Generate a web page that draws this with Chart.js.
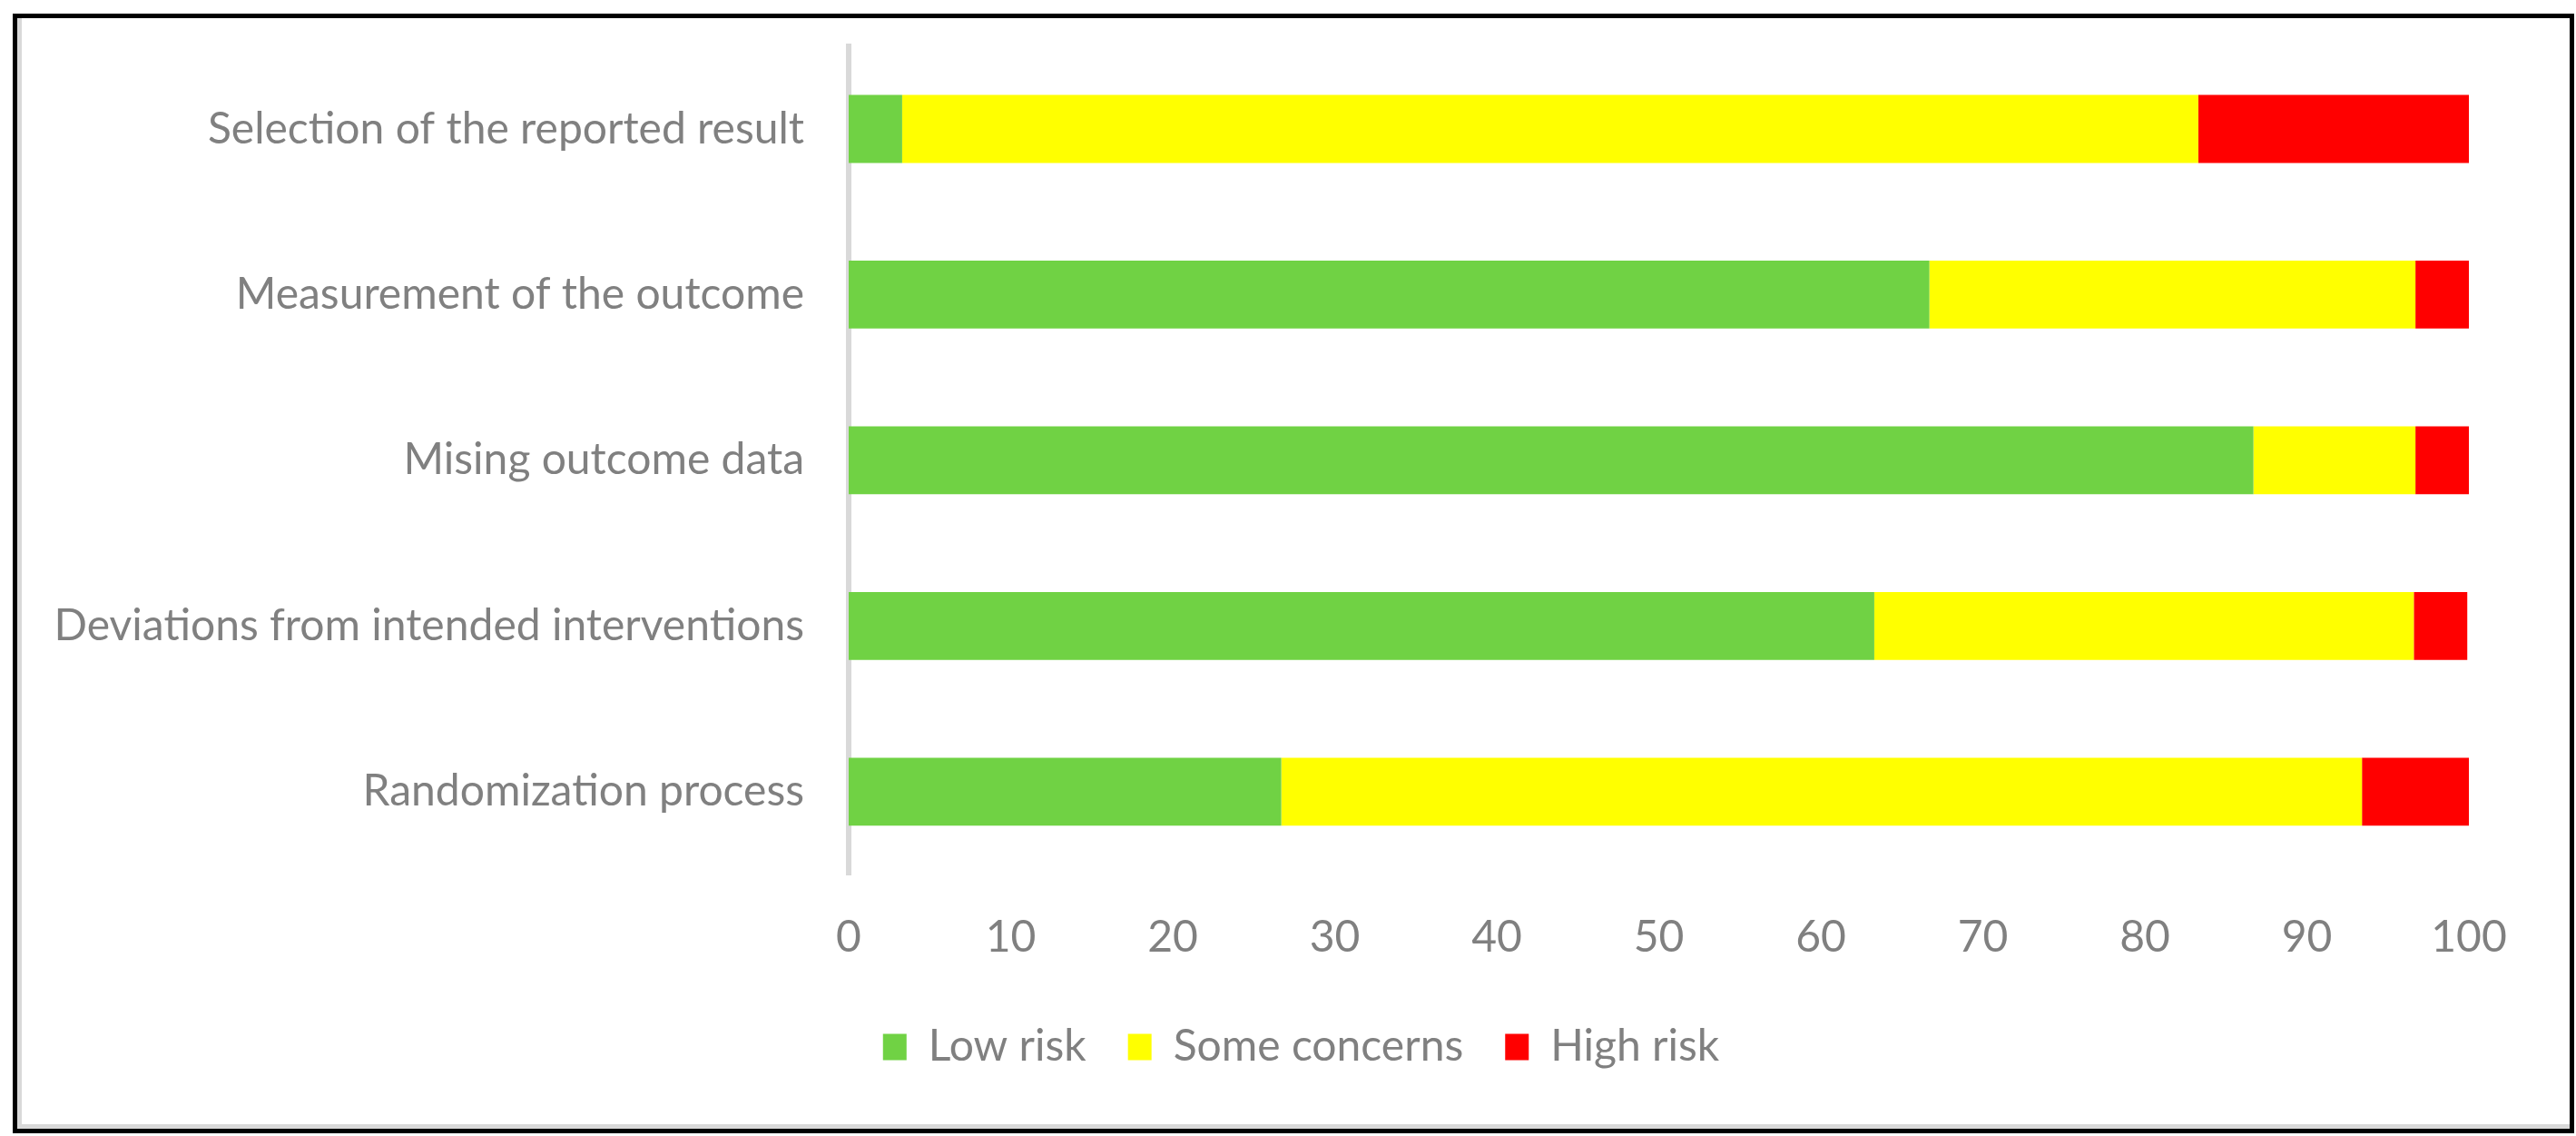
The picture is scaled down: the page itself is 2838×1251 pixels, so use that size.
<!DOCTYPE html>
<html>
<head>
<meta charset="utf-8">
<script src="https://cdn.jsdelivr.net/npm/chart.js@4"></script>
<style>
  html, body { margin: 0; padding: 0; background: #fff; }
  #frame {
    position: absolute;
    left: 14px; top: 15px;
    width: 2822px; height: 1233px;
    box-sizing: border-box;
    border: 5px solid #000;
    box-shadow: inset 5px -5px 0 #d9d9d9;
  }
  #riskChart { position: absolute; left: 2px; top: 2px; }
</style>
</head>
<body>
<div id="frame">
  <canvas id="riskChart" width="2810" height="1221"></canvas>
</div>
<script>
const domains = [
  "Selection of the reported result",
  "Measurement of the outcome",
  "Mising outcome data",
  "Deviations from intended interventions",
  "Randomization process"
];
const lowRisk = [3.3, 66.7, 86.7, 63.3, 26.7];
const someConcerns = [80, 30, 10, 33.3, 66.7];
const highRisk = [16.7, 3.3, 3.3, 3.3, 6.7];
const xTicks = [0, 10, 20, 30, 40, 50, 60, 70, 80, 90, 100];

const textGrey = "#808080";
const fontFamily = "Lato, 'Open Sans', sans-serif";

// the legend sits centred on the whole frame, not on the padded area
const legendShift = {
  id: "legendShift",
  afterLayout(chart) {
    chart.legend.left += 63;
    chart.legend.right += 63;
  }
};

new Chart(document.getElementById("riskChart"), {
  type: "bar",
  data: {
    labels: domains,
    datasets: [
      { label: "Low risk", data: lowRisk, backgroundColor: "#70d244" },
      { label: "Some concerns", data: someConcerns, backgroundColor: "#ffff00" },
      { label: "High risk", data: highRisk, backgroundColor: "#ff0000" }
    ]
  },
  plugins: [legendShift],
  options: {
    indexAxis: "y",
    responsive: false,
    animation: false,
    devicePixelRatio: 1,
    datasets: {
      bar: { categoryPercentage: 1, barPercentage: 0.41, borderWidth: 0 }
    },
    layout: { padding: { top: 28, right: 111, bottom: 56, left: 0 } },
    scales: {
      x: {
        stacked: true,
        min: 0,
        max: 100,
        afterBuildTicks: s => { s.ticks = xTicks.map(v => ({ value: v })); },
        afterFit: s => { s.height = 120; },
        grid: { display: false, drawTicks: false },
        border: { display: false },
        ticks: { color: textGrey, font: { family: fontFamily, size: 48 }, padding: 41 }
      },
      y: {
        stacked: true,
        afterFit: s => { s.width = 914; },
        // tick length (not drawn) keeps the labels off the axis line
        grid: { display: false, drawTicks: true, tickLength: 49 },
        border: { display: true, color: "#d9d9d9", width: 6 },
        ticks: { color: textGrey, font: { family: fontFamily, size: 48 }, padding: 0 }
      }
    },
    plugins: {
      tooltip: { enabled: false },
      legend: {
        position: "bottom",
        labels: {
          color: textGrey,
          font: { family: fontFamily, size: 48 },
          boxWidth: 26,
          boxHeight: 29,
          padding: 46
        }
      }
    }
  }
});
</script>
</body>
</html>
